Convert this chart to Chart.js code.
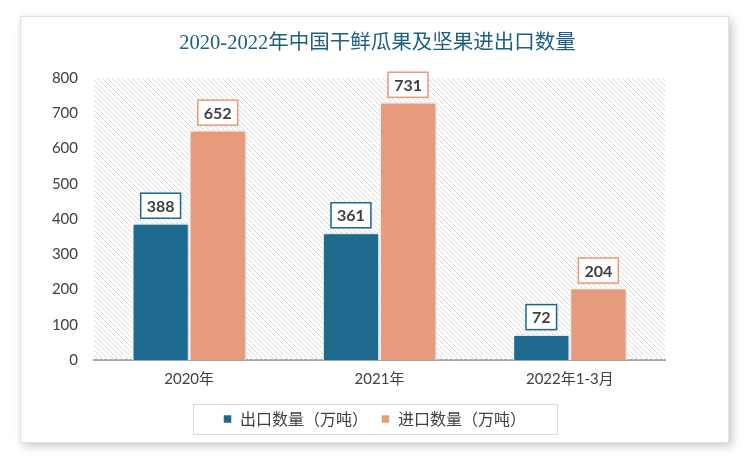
<!DOCTYPE html>
<html>
<head>
<meta charset="utf-8">
<script src="https://cdn.jsdelivr.net/npm/chart.js@4"></script>
<style>
    html, body { margin: 0; padding: 0; background: #ffffff; }
    body { width: 750px; height: 461px; position: relative; overflow: hidden; }
    #card {
        position: absolute; left: 20px; top: 16px; width: 707px; height: 425px;
        background: #ffffff; border: 1px solid #e2e2e2;
        box-shadow: 3px 3px 9px rgba(0, 0, 0, 0.22);
    }
    #chartBox { position: absolute; left: 0; top: 0; width: 707px; height: 425px; }
</style>
</head>
<body>
<div id="card"><div id="chartBox"><canvas id="nutChart"></canvas></div></div>
<script>
// 数据
const categories = ["2020年", "2021年", "2022年1-3月"];
const exportValues = [388, 361, 72];
const importValues = [652, 731, 204];
const seriesNames = ["出口数量（万吨）", "进口数量（万吨）"];
const yTicks = [0, 100, 200, 300, 400, 500, 600, 700, 800];

const blue = "#1d6a8e";
const salmon = "#e69c7c";
const textColor = "#404040";

// 斜线底纹
function makeHatch() {
    const c = document.createElement("canvas");
    c.width = 5; c.height = 5;
    const g = c.getContext("2d");
    g.strokeStyle = "#dadada";
    g.lineWidth = 1;
    g.beginPath();
    g.moveTo(-1, -1); g.lineTo(6, 6);
    g.moveTo(-1, 4); g.lineTo(1, 6);
    g.moveTo(4, -1); g.lineTo(6, 1);
    g.stroke();
    return c;
}

const hatchBg = {
    id: "hatchBg",
    beforeDatasetsDraw(chart) {
        const { ctx, chartArea: a } = chart;
        ctx.save();
        ctx.fillStyle = ctx.createPattern(makeHatch(), "repeat");
        ctx.fillRect(a.left, a.top, a.right - a.left, a.bottom - a.top);
        ctx.restore();
        // 柱子阴影
        ctx.save();
        ctx.shadowColor = "rgba(0,0,0,0.25)";
        ctx.shadowBlur = 4;
        ctx.shadowOffsetX = 1;
        ctx.shadowOffsetY = 0;
    },
    afterDatasetsDraw(chart) {
        chart.ctx.restore();
    }
};

// 标题（按整个画布居中）
const centerTitle = {
    id: "centerTitle",
    afterDraw(chart) {
        const ctx = chart.ctx;
        ctx.save();
        ctx.font = "20.5px 'Liberation Serif', 'Noto Sans CJK SC', serif";
        ctx.fillStyle = "#1d6080";
        ctx.textAlign = "center";
        ctx.textBaseline = "middle";
        ctx.fillText("2020-2022年中国干鲜瓜果及坚果进出口数量", chart.width / 2 + 3, 27);
        ctx.restore();
    }
};

// 数据标签（带边框）
const boxLabels = {
    id: "boxLabels",
    afterDatasetsDraw(chart) {
        const ctx = chart.ctx;
        ctx.save();
        ctx.font = "bold 16px Lato, 'Open Sans', sans-serif";
        ctx.textAlign = "center";
        ctx.textBaseline = "middle";
        chart.data.datasets.forEach((ds, i) => {
            chart.getDatasetMeta(i).data.forEach((bar, j) => {
                const txt = String(ds.data[j]);
                const w = ctx.measureText(txt).width + 12;
                const h = 25;
                const x = bar.x - w / 2;
                const y = bar.y - 5 - h;
                ctx.shadowColor = "rgba(0,0,0,0.2)";
                ctx.shadowBlur = 3;
                ctx.fillStyle = "#ffffff";
                ctx.fillRect(x, y, w, h);
                ctx.shadowBlur = 0;
                ctx.strokeStyle = ds.backgroundColor;
                ctx.lineWidth = 1.5;
                ctx.strokeRect(x, y, w, h);
                ctx.fillStyle = textColor;
                ctx.fillText(txt, bar.x, y + h / 2 + 1);
            });
        });
        ctx.restore();
    }
};

// 图例边框
const legendFrame = {
    id: "legendFrame",
    afterDraw(chart) {
        const boxes = chart.legend.legendHitBoxes;
        if (!boxes || !boxes.length) return;
        const left = Math.min(...boxes.map(b => b.left));
        const right = Math.max(...boxes.map(b => b.left + b.width));
        const cx = (left + right) / 2;
        const cy = boxes[0].top + boxes[0].height / 2;
        const ctx = chart.ctx;
        ctx.save();
        ctx.strokeStyle = "#d9d9d9";
        ctx.lineWidth = 1;
        ctx.strokeRect(Math.round(cx - 182) + 0.5, Math.round(cy - 15) + 0.5, 364, 30);
        ctx.restore();
    }
};

const ctx = document.getElementById("nutChart").getContext("2d");
new Chart(ctx, {
    type: "bar",
    data: {
        labels: categories,
        datasets: [
            {
                label: seriesNames[0],
                data: exportValues,
                backgroundColor: blue,
                borderColor: "#ffffff",
                borderWidth: 1.5
            },
            {
                label: seriesNames[1],
                data: importValues,
                backgroundColor: salmon,
                borderColor: "#ffffff",
                borderWidth: 1.5
            }
        ]
    },
    options: {
        responsive: true,
        maintainAspectRatio: false,
        animation: false,
        categoryPercentage: 0.6,
        barPercentage: 1.0,
        layout: { padding: { left: 0, right: 0, top: 61, bottom: 5 } },
        plugins: {
            title: { display: false },
            legend: {
                position: "bottom",
                labels: {
                    color: textColor,
                    font: { family: "'Noto Sans CJK SC', sans-serif", size: 16 },
                    boxWidth: 9,
                    boxHeight: 9,
                    padding: 13
                }
            },
            tooltip: { enabled: false }
        },
        scales: {
            x: {
                grid: { display: false, drawTicks: false },
                border: { color: "#a6a6a6", width: 2 },
                ticks: {
                    color: textColor,
                    padding: 10,
                    font: { family: "Lato, 'Noto Sans CJK SC', sans-serif", size: 15 }
                }
            },
            y: {
                min: 0,
                max: 800,
                afterBuildTicks(axis) { axis.ticks = yTicks.map(v => ({ value: v })); },
                afterFit(axis) { axis.width = 73; },
                grid: { display: false, drawTicks: false },
                border: { display: false },
                ticks: {
                    color: textColor,
                    padding: 16,
                    font: { family: "Lato, sans-serif", size: 15 }
                }
            },
            yRight: {
                position: "right",
                min: 0,
                max: 800,
                afterFit(axis) { axis.width = 63; },
                grid: { display: false, drawTicks: false },
                border: { display: false },
                ticks: { display: false }
            }
        }
    },
    plugins: [hatchBg, centerTitle, boxLabels, legendFrame]
});
</script>
</body>
</html>
